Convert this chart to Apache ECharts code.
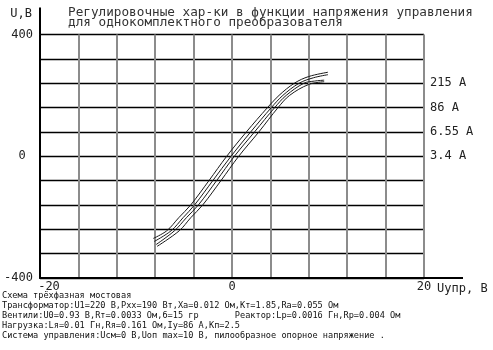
<!DOCTYPE html>
<html><head><meta charset="utf-8">
<script src="https://cdn.jsdelivr.net/npm/echarts@6/dist/echarts.min.js"></script>
<style>html,body{margin:0;padding:0;background:#fff}#c{width:493px;height:350px}</style>
</head><body><div id="c"></div>
<script>
// ---- data ----
const xRange = [-20, 20];
const yRange = [-400, 400];
const xTickLabels = [-20, 0, 20];
const yTickLabels = [-400, 0, 400];
const currentLevels = [240, 160, 80, 0];
const currentLabels = ['215 A', '86 A', '6.55 A', '3.4 A'];

const curve1X = [-8.2, -6.8, -5.55, -4.3, -2.4, -0.55, 1.5, 3.7, 4.9, 6.5, 8.0, 10.0];
const curve1Y = [-270, -245, -202, -160, -80, 0, 80, 160, 200, 240, 262, 276];
const curve2X = [-8.1, -6.35, -5.1, -3.9, -2.0, -0.1, 1.95, 4.1, 5.3, 7.0, 8.5, 10.0];
const curve2Y = [-280, -245, -202, -160, -80, 0, 80, 160, 200, 240, 258, 268];
const curve3X = [-7.9, -6.0, -4.75, -3.5, -1.6, 0.25, 2.35, 4.45, 5.65, 7.5, 8.6, 9.6];
const curve3Y = [-290, -245, -202, -160, -80, 0, 80, 160, 200, 240, 247, 250];
const curve4X = [-7.8, -5.5, -4.3, -3.05, -1.15, 0.7, 2.8, 4.8, 6.0, 8.0, 9.6];
const curve4Y = [-296, -245, -202, -160, -80, 0, 80, 160, 200, 236, 245];

const titleText = 'Регулировочные хар-ки в функции напряжения управления\nдля однокомплектного преобразователя';
const infoText = [
  'Схема трёхфазная мостовая',
  'Трансформатор:U1=220 В,Pxx=190 Вт,Xa=0.012 Ом,Kт=1.85,Ra=0.055 Ом',
  'Вентили:U0=0.93 В,Rт=0.0033 Ом,б=15 гр       Реактор:Lp=0.0016 Гн,Rp=0.004 Ом',
  'Нагрузка:Lя=0.01 Гн,Rя=0.161 Ом,Iу=86 А,Kп=2.5',
  'Система управления:Uсм=0 В,Uоп max=10 В, пилообразное опорное напряжение .'
].join('\n');

const FONT = '"DejaVu Sans Mono", monospace';
const curves = [[curve1X, curve1Y], [curve2X, curve2Y], [curve3X, curve3Y], [curve4X, curve4Y]];

const chart = echarts.init(document.getElementById('c'), null, {renderer: 'canvas'});
chart.setOption({
  animation: false,
  backgroundColor: '#fff',
  title: [
    {text: titleText, left: 68, top: 7, padding: 0,
     textStyle: {fontFamily: FONT, fontSize: 12.7, fontWeight: 'normal', color: '#333', lineHeight: 10.5}},
    {text: infoText, left: 2, top: 291, padding: 0,
     textStyle: {fontFamily: FONT, fontSize: 8.6, fontWeight: 'normal', color: '#111', lineHeight: 10}}
  ],
  grid: {left: 40, top: 34.5, width: 384, height: 243.5, containLabel: false},
  xAxis: {
    type: 'value', min: xRange[0], max: xRange[1], interval: 4,
    name: 'Uупр, В', nameLocation: 'end', nameGap: 11,
    nameTextStyle: {fontFamily: FONT, fontSize: 12, color: '#222', verticalAlign: 'top', align: 'left', padding: [5, 0, 0, 0]},
    axisLine: {show: true, onZero: false, lineStyle: {color: '#000', width: 2}},
    axisTick: {show: false},
    axisLabel: {
      fontFamily: FONT, fontSize: 12, color: '#222', margin: 3, showMinLabel: true, showMaxLabel: true,
      formatter: v => xTickLabels.includes(v) ? (v === xTickLabels[0] ? '{a|' + v + '}' : String(v)) : '',
      rich: {a: {fontFamily: FONT, fontSize: 12, color: '#222', padding: [0, 0, 0, 18]}}
    },
    splitLine: {show: true, lineStyle: {color: '#8c8c8c', width: 2}}
  },
  yAxis: [
    {
      type: 'value', min: yRange[0], max: yRange[1], interval: 80,
      name: 'U,B', nameLocation: 'end', nameGap: 21,
      nameTextStyle: {fontFamily: FONT, fontSize: 12, color: '#222', align: 'right', verticalAlign: 'middle', padding: [0, 8, 0, 0]},
      axisLine: {show: true, onZero: false, lineStyle: {color: '#000', width: 2}},
      axisTick: {show: false},
      axisLabel: {
        fontFamily: FONT, fontSize: 12, color: '#222', margin: 7,
        formatter: v => yTickLabels.includes(v) ? (v === 0 ? '0 ' : String(v)) : ''
      },
      splitLine: {show: true, lineStyle: {color: '#000', width: 1.4}}
    },
    {
      type: 'value', min: yRange[0], max: yRange[1], interval: 80, position: 'right',
      axisLine: {show: false}, axisTick: {show: false}, splitLine: {show: false},
      axisLabel: {
        fontFamily: FONT, fontSize: 12, color: '#222', margin: 6, verticalAlign: 'middle',
        padding: [0, 0, 2, 0],
        formatter: v => { const i = currentLevels.indexOf(v); return i >= 0 ? currentLabels[i] : ''; }
      }
    }
  ],
  series: curves.map(([xs, ys]) => ({
    type: 'line', smooth: 0.35, showSymbol: false, silent: true,
    data: xs.map((x, i) => [x, ys[i]]),
    lineStyle: {color: '#1a1a1a', width: 1}
  }))
});

// extended axis lines (decoration beyond the plot frame)
const o = chart.convertToPixel({gridIndex: 0}, [xRange[0], yRange[0]]);
const e = chart.convertToPixel({gridIndex: 0}, [xRange[1], yRange[1]]);
chart.setOption({
  graphic: [
    {type: 'line', shape: {x1: e[0], y1: o[1], x2: e[0] + 39, y2: o[1]}, style: {stroke: '#000', lineWidth: 2}},
    {type: 'line', shape: {x1: o[0], y1: e[1], x2: o[0], y2: e[1] - 27}, style: {stroke: '#000', lineWidth: 2}}
  ]
});
</script>
</body></html>
